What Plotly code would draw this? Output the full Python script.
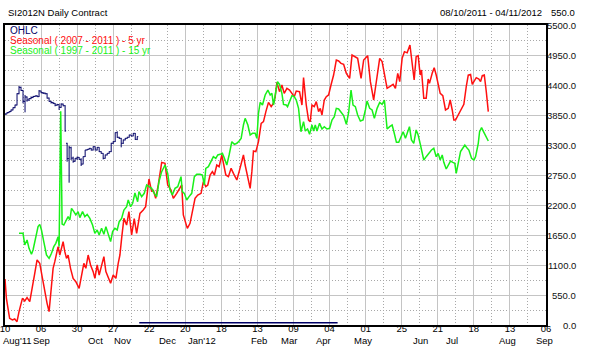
import plotly.graph_objects as go

# ---------------- data ----------------
# x positions are trading-day indexes counted from 10 Aug 2011
day_tick_labels = ["10", "06", "30", "27", "22", "20", "18", "13", "09", "04",
                   "01", "25", "21", "18", "13", "06"]
day_tick_idx = [0, 18, 36, 54, 72, 90, 108, 126, 144, 162, 180, 198, 216, 234, 252, 270]
month_labels = ["Aug'11", "Sep", "Oct", "Nov", "Dec", "Jan'12", "Feb", "Mar", "Apr",
                "May", "Jun", "Jul", "Aug", "Sep"]
month_label_idx = [6, 18, 45, 58.5, 81, 98.3, 127, 141.5, 159, 178.5, 207.5, 223, 251, 269]

y_tick_vals = [0, 550, 1100, 1650, 2200, 2750, 3300, 3850, 4400, 4950, 5500]

ohlc_idx = list(range(0, 67))
ohlc_open = [3860, 3868, 3893, 3911, 3942, 3984, 4033, 4240, 4357, 4300,
             4100, 4180, 4125, 4150, 4170, 4190, 4200, 4186, 4290, 4259,
             4250, 4240, 4160, 4100, 4080, 4064, 4030, 4040, 3990, 4050,
             4020, 3331, 3050, 3250, 3060, 3000, 3056, 3074, 3037, 2950,
             3086, 3208, 3220, 3239, 3208, 3269, 3208, 3257, 3178, 3147,
             3056, 3117, 3147, 3178, 3331, 3361, 3526, 3441, 3422, 3331,
             3392, 3422, 3441, 3483, 3465, 3514, 3404]
ohlc_high = [3880, 3900, 3915, 3950, 3990, 4040, 4250, 4382, 4370, 4310,
             4217, 4190, 4160, 4190, 4200, 4205, 4215, 4308, 4295, 4270,
             4262, 4250, 4170, 4110, 4090, 4070, 4055, 4050, 4064, 4060,
             4030, 3340, 3282, 3269, 3086, 3060, 3086, 3080, 3056, 3090,
             3210, 3225, 3245, 3245, 3275, 3275, 3262, 3260, 3185, 3150,
             3125, 3150, 3185, 3340, 3370, 3530, 3550, 3450, 3430, 3400,
             3430, 3450, 3490, 3490, 3520, 3520, 3460]
ohlc_low = [3850, 3865, 3885, 3905, 3935, 3975, 4025, 4230, 4290, 4064,
            3899, 4094, 4110, 4140, 4160, 4180, 4180, 4180, 4250, 4235,
            4230, 4150, 4094, 4060, 4050, 4010, 4020, 3942, 3980, 4010,
            3544, 2994, 2609, 3025, 2975, 2995, 3025, 3030, 2915, 2945,
            3080, 3200, 3215, 3200, 3200, 3200, 3200, 3170, 3140, 3037,
            3050, 3110, 3140, 3170, 3320, 3355, 3430, 3410, 3257, 3320,
            3385, 3415, 3435, 3460, 3460, 3392, 3390]
ohlc_close = [3868, 3893, 3911, 3942, 3984, 4033, 4240, 4357, 4300, 4100,
              4180, 4125, 4150, 4170, 4190, 4200, 4186, 4290, 4259, 4250,
              4240, 4160, 4100, 4080, 4064, 4030, 4040, 3990, 4050, 4020,
              3560, 3050, 3250, 3060, 3000, 3056, 3074, 3037, 2950, 3086,
              3208, 3220, 3239, 3208, 3269, 3208, 3257, 3178, 3147, 3056,
              3117, 3147, 3178, 3331, 3361, 3526, 3441, 3422, 3331, 3392,
              3422, 3441, 3483, 3465, 3514, 3404, 3453]
# OHLC after the last real bar, drawn flat near zero up to 04/11/2012
ohlc_flat_idx = [67, 166]
ohlc_flat_val = [40, 40]

red_idx = [0, 0.7, 2.3, 3.7, 4.85, 6, 7, 8.7, 9.85, 11,
           12.35, 13.7, 14.85, 16, 17.35, 18.7, 19.85, 21, 22, 23.2,
           24, 24.85, 25.7, 26.5, 27.35, 28.2, 29, 29.85, 30.7, 31.5,
           32.7, 34, 35.35, 37, 38.2, 39.35, 40.35, 41.5, 42.7, 44,
           44.85, 46, 47, 48.2, 49.35, 50.35, 51.5, 52.7, 54, 55.35,
           56.5, 57.35, 58.2, 59.35, 60.7, 61.85, 63.2, 64.5, 65.7, 67.35,
           69, 70.2, 71.85, 73.2, 74, 75.2, 76.5, 78.2, 79.85, 81.2,
           82.85, 84, 85.7, 87.35, 88.2, 89, 89.85, 91, 92.35, 93.5,
           94.85, 96.2, 97.85, 99, 100.2, 101.2, 102.35, 103.5, 104.5, 105.7,
           106.85, 108.2, 109, 110.2, 111.5, 112.85, 114, 115.7, 116.85, 117.85,
           119, 119.85, 121.2, 122.35, 123.2, 124, 125.2, 126.5, 127.85, 129,
           130.2, 131.5, 132.85, 134.2, 134.85, 135.7, 137, 138.2, 139.35, 140.7,
           142, 143.2, 144.35, 145.35, 147, 148.2, 149, 150.35, 151.5, 152.35,
           153.2, 154.35, 155.35, 156.5, 157.35, 158.2, 159.35, 160.35, 161.5, 162.7,
           164, 165.35, 166.5, 167.7, 169, 170.35, 172, 173.2, 174.35, 176,
           177.7, 179, 181, 182.35, 184, 185.35, 187, 188.2, 189.35, 190.7,
           192, 193.7, 194.85, 196, 197, 198.2, 199.35, 200.7, 202.1, 203.2,
           204.2, 205.2, 206.2, 207.2, 207.85, 209, 210.2, 211.2, 211.85, 213.2,
           214.2, 215.2, 216.2, 217.2, 218.5, 219.85, 221.2, 222.2, 223.2, 224,
           224.85, 226.2, 227.35, 229, 230.2, 231.2, 232.35, 233.2, 234, 235.2,
           236.5, 237.35, 238.2, 239.2, 240.2, 241.2]
red_val = [843, 489, 122, 92, 110, 61, 244, 489, 440, 501,
           428, 672, 947, 1192, 1130, 855, 611, 397, 244, 672,
           1039, 1161, 1283, 1436, 1283, 1405, 1528, 1344, 1222, 1283,
           1039, 855, 794, 672, 917, 1130, 1039, 1283, 1100, 978,
           855, 1100, 917, 1100, 1253, 978, 855, 764, 917, 855,
           1130, 1283, 1589, 1955, 1833, 2078, 1650, 1950, 1680, 2047,
           2108, 2169, 2677, 2444, 2475, 2322, 2567, 2982, 2964, 2567,
           2475, 2322, 2414, 2505, 2567, 2017, 1925, 1772, 1864, 2078,
           2322, 2383, 2414, 2628, 2536, 2567, 2750, 2811, 2750, 2933,
           2903, 3117, 2994, 2750, 2720, 2872, 2781, 2658, 2811, 2964,
           3117, 2933, 2689, 2505, 2811, 3190, 3178, 3361, 3697, 3728,
           3911, 4082, 4003, 4080, 4186, 4449, 4278, 4400, 4247, 4339,
           4308, 4247, 4186, 4290, 4278, 4033, 4535, 4033, 3758, 3728,
           4033, 4003, 4095, 3911, 3972, 3850, 4125, 4186, 4217, 4400,
           4583, 4858, 4840, 4797, 4779, 4614, 4522, 4950, 4919, 4889,
           4522, 4858, 4938, 4461, 4125, 4461, 4889, 4828, 4583, 4339,
           4369, 4412, 4339, 4614, 4461, 4889, 5011, 4990, 5133, 4828,
           4492, 4919, 4938, 4583, 4675, 4156, 4156, 4510, 4430, 4614,
           4718, 4583, 4430, 4247, 4205, 3942, 3972, 4125, 3942, 3758,
           3758, 3850, 3942, 4045, 4369, 4583, 4595, 4412, 4461, 4535,
           4510, 4461, 4571, 4583, 4278, 3911]

green_idx = [7, 9, 9.85, 11, 12, 13.2, 14, 15.35, 16.5, 17.35,
             18.2, 19.35, 20.7, 22, 23.2, 24.35, 25.35, 26.5, 27, 27.8,
             28.5, 29.35, 30.35, 31.5, 32.35, 33.2, 34.35, 35.35, 36.5, 37.35,
             38.7, 39.85, 41, 42.35, 43.7, 44.85, 46, 47, 48.2, 49.35,
             50.35, 51.5, 52.7, 53.7, 54.85, 56, 57, 58.2, 59.35, 60.7,
             61.5, 62.7, 63.7, 64.85, 66.2, 66.85, 68.2, 69.5, 70.7, 71.85,
             73.2, 74.5, 75.7, 76.85, 78.2, 79.85, 81.2, 82.35, 83.5, 84.85,
             86.2, 87.85, 88.5, 89.5, 90.7, 91.85, 93.2, 94.5, 95.7, 97.35,
             98.5, 99.5, 100.2, 101.5, 102.85, 104, 105.2, 106.2, 107.35, 108.5,
             109.5, 110.7, 111.85, 113.2, 114.5, 115.7, 116.85, 117.85, 119, 119.85,
             121.2, 122.35, 123.5, 124.85, 125.7, 126.5, 127.35, 128.5, 129.85, 131.2,
             132.35, 133.2, 134, 135.35, 136, 137, 138.2, 139, 140.35, 141,
             142, 143.2, 144.35, 145.35, 146.5, 147.7, 149, 149.85, 151, 152,
             153.2, 154, 154.85, 155.7, 157, 158.2, 159.35, 160.7, 162, 163.2,
             164.35, 165.35, 166.5, 167.7, 169, 170.35, 171.5, 172.7, 173.7, 174.85,
             176, 177.35, 178.7, 179.85, 180.7, 182, 183.2, 184.35, 185.7, 187,
             188.2, 189.35, 190.7, 192, 193.2, 194, 195.35, 196.5, 197.7, 198.7,
             199.85, 200.7, 201.85, 202.85, 204, 205.2, 206.2, 207.35, 208.5, 209,
             210.2, 211.5, 212.85, 214, 215.2, 216.2, 217.2, 218.2, 219, 220.2,
             221.2, 222.35, 223.5, 224.5, 225.2, 226.2, 227.35, 228.2, 229.5, 230.7,
             231.5, 232.85, 234, 234.85, 236.2, 236.85, 237.85, 239, 240.2, 241.2]
green_val = [1680, 1680, 1467, 1558, 1405, 1296, 1375, 1589, 1803, 1845,
             1742, 1528, 1283, 1222, 1314, 1436, 1497, 1620, 1436, 3920,
             1850, 1833, 1894, 1986, 1925, 2139, 2078, 2017, 2078, 1968,
             2078, 1986, 2029, 1955, 1833, 1680, 1742, 1650, 1772, 1662,
             1803, 1650, 1528, 1711, 1772, 1742, 1894, 1955, 2108, 2169,
             2292, 2169, 2231, 2420, 2261, 2444, 2353, 2414, 2567, 2536,
             2505, 2414, 2353, 2628, 2811, 2933, 2781, 2475, 2383, 2505,
             2536, 2720, 2444, 2414, 2292, 2353, 2414, 2720, 2762, 2762,
             2750, 2567, 2872, 2903, 2994, 3086, 3056, 3117, 3129, 3147,
             3056, 2933, 3117, 3361, 3312, 3331, 3373, 3422, 3667, 3789,
             3667, 3483, 3514, 3514, 3422, 3881, 4082, 4033, 4217, 4308,
             4217, 4247, 4033, 4278, 4461, 4412, 4247, 4045, 4033, 4003,
             4095, 4205, 4186, 4125, 3972, 3544, 3728, 3556, 3593, 3495,
             3667, 3556, 3667, 3556, 3697, 3593, 3636, 3593, 3606, 3758,
             3819, 3972, 3960, 3899, 3838, 3679, 3899, 4308, 4033, 4003,
             3850, 3740, 3758, 3942, 4107, 3972, 3942, 3789, 3972, 4082,
             4045, 4125, 3593, 3636, 3667, 3556, 3349, 3349, 3453, 3544,
             3422, 3532, 3636, 3392, 3331, 3575, 3483, 3300, 3056, 3025,
             3086, 3147, 3208, 3239, 3086, 3147, 3025, 3117, 2982, 2860,
             2920, 3006, 2982, 2964, 2781, 2994, 3178, 3227, 3300, 3239,
             3208, 3056, 3025, 3086, 3331, 3544, 3618, 3532, 3453, 3373]

title_text = "SI2012N Daily Contract"
range_text = "08/10/2011 - 04/11/2012"
last_text = "550.0"
legend_texts = ["OHLC", "Seasonal ( 2007 - 2011 ) - 5 yr", "Seasonal ( 1997 - 2011 ) - 15 yr"]

# ---------------- styling ----------------
FONT = "Arial, 'Liberation Sans', sans-serif"
NAVY = "#000066"
RED = "#ff1010"
GREEN = "#19f019"
MAJOR = "#c4c4c4"
MINOR = "#a8a8a8"

fig = go.Figure()

fig.add_trace(go.Scatter(x=red_idx, y=red_val, mode="lines",
                         line=dict(color=RED, width=1.5), hoverinfo="skip"))
fig.add_trace(go.Scatter(x=green_idx, y=green_val, mode="lines",
                         line=dict(color=GREEN, width=1.5), hoverinfo="skip"))
fig.add_trace(go.Ohlc(x=ohlc_idx, open=ohlc_open, high=ohlc_high, low=ohlc_low,
                      close=ohlc_close, tickwidth=0.5,
                      increasing=dict(line=dict(color=NAVY, width=1)),
                      decreasing=dict(line=dict(color=NAVY, width=1)),
                      hoverinfo="skip"))
fig.add_trace(go.Scatter(x=ohlc_flat_idx, y=ohlc_flat_val, mode="lines",
                         line=dict(color=NAVY, width=1.5), hoverinfo="skip"))

fig.update_layout(
    width=595, height=355,
    margin=dict(l=5, r=49, t=25, b=30, autoexpand=False),
    paper_bgcolor="white", plot_bgcolor="white",
    showlegend=False,
    font=dict(family=FONT, size=9.5, color="black"),
    xaxis=dict(
        range=[0, 270], tickmode="array", tickvals=day_tick_idx, ticktext=day_tick_labels,
        showgrid=True, gridcolor=MAJOR, gridwidth=1, automargin=False,
        minor=dict(tickmode="linear", tick0=0, dtick=9, showgrid=True,
                   gridcolor=MINOR, griddash="1px,2px", gridwidth=1, ticks=""),
        showline=True, linecolor="black", linewidth=2, mirror=True,
        ticks="", zeroline=False, rangeslider=dict(visible=False),
        tickfont=dict(size=9.5, color="black"), ticklabelstandoff=-6,
        ticklabeloverflow="allow",
    ),
    yaxis=dict(
        range=[0, 5500], side="right", tickmode="array", tickvals=y_tick_vals,
        showticklabels=False, automargin=False,
        showgrid=True, gridcolor=MAJOR, gridwidth=1,
        minor=dict(tickmode="linear", tick0=0, dtick=275, showgrid=True,
                   gridcolor=MINOR, griddash="1px,2px", gridwidth=1, ticks=""),
        showline=True, linecolor="black", linewidth=2, mirror=True,
        ticks="", zeroline=False,
    ),
)

annotations = []
# right-hand value labels, right aligned as in the original
for v in y_tick_vals:
    annotations.append(dict(text=f"{v:.1f}", xref="paper", yref="y", x=1.0573, y=v,
                            xanchor="right", yanchor="middle", showarrow=False,
                            borderpad=0, font=dict(size=9.5, color="#111111")))
# header
annotations.append(dict(text=title_text, xref="paper", yref="paper", x=0.002, y=1.04,
                        xanchor="left", yanchor="middle", showarrow=False,
                        font=dict(size=9.5, color="black")))
annotations.append(dict(text=range_text, xref="paper", yref="paper", x=0.996, y=1.04,
                        xanchor="right", yanchor="middle", showarrow=False,
                        font=dict(size=9.5, color="black")))
annotations.append(dict(text=last_text, xref="paper", yref="paper", x=1.057, y=1.04,
                        xanchor="right", yanchor="middle", showarrow=False,
                        font=dict(size=9.5, color="black")))
# legend text lines
for i, (txt, col) in enumerate(zip(legend_texts, [NAVY, RED, GREEN])):
    annotations.append(dict(text=txt, xref="paper", yref="paper", x=0.007, y=0.983 - i * 0.0335,
                            xanchor="left", yanchor="middle", showarrow=False, borderpad=0,
                            font=dict(size=10, color=col)))
# month labels under day ticks
for lab, pos in zip(month_labels, month_label_idx):
    annotations.append(dict(text=lab, xref="x", yref="paper", x=pos, y=-0.052,
                            xanchor="center", yanchor="middle", showarrow=False,
                            font=dict(size=9.5, color="black")))
fig.update_layout(annotations=annotations)

fig.write_html("out.html", config={"displayModeBar": False},
               post_script="document.body.style.margin='0';document.body.style.padding='0';")
